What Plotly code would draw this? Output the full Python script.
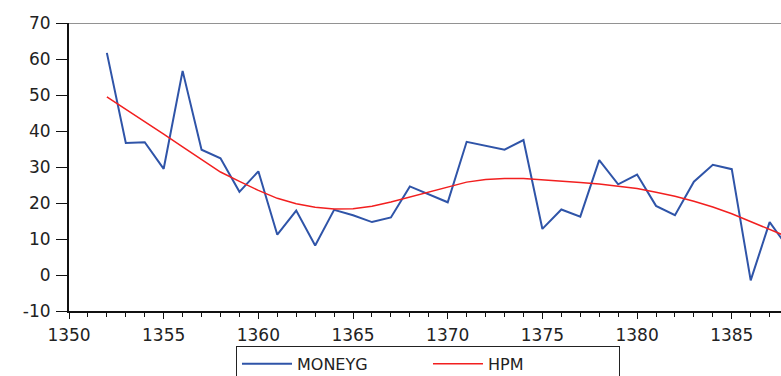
import plotly.graph_objects as go

years = list(range(1352, 1389))
moneyg = [61.7, 36.7, 36.9, 29.5, 56.7, 34.8, 32.4, 23.1, 28.8, 11.2,
          17.9, 8.2, 18.1, 16.6, 14.7, 16.0, 24.6, 22.3, 20.2, 37.0,
          35.8, 34.8, 37.5, 12.8, 18.2, 16.2, 31.9, 25.2, 27.9, 19.2,
          16.6, 25.9, 30.6, 29.4, -1.5, 14.7, 7.4]
hpm = [49.5, 46.1, 42.6, 39.1, 35.6, 32.0, 28.6, 26.0, 23.5, 21.3,
       19.8, 18.8, 18.3, 18.4, 19.1, 20.3, 21.7, 23.2, 24.6, 25.8,
       26.5, 26.8, 26.8, 26.5, 26.1, 25.7, 25.3, 24.7, 24.0, 23.0,
       21.9, 20.5, 18.9, 17.0, 14.9, 12.7, 10.5]

y_ticks = [70, 60, 50, 40, 30, 20, 10, 0, -10]
y_labels = ["70", "60", "50", "40", "30", "20", "10", "0", "-10"]
x_ticks = [1350, 1355, 1360, 1365, 1370, 1375, 1380, 1385]
x_labels = ["1350", "1355", "1360", "1365", "1370", "1375", "1380", "1385"]

FONT = "DejaVu Sans, Liberation Sans, Arial"

fig = go.Figure()
fig.add_trace(go.Scatter(x=years, y=moneyg, mode="lines", name="MONEYG",
                         line=dict(color="#2F54A8", width=2)))
fig.add_trace(go.Scatter(x=years, y=hpm, mode="lines", name="HPM",
                         line=dict(color="#F21F1F", width=1.5)))

fig.add_shape(type="line", xref="paper", yref="y", x0=0, x1=1, y0=70, y1=70,
              line=dict(color="#6E6E6E", width=1.5))

fig.update_layout(
    width=781, height=376,
    margin=dict(l=69, r=0, t=23, b=65, pad=0, autoexpand=False),
    plot_bgcolor="white", paper_bgcolor="white",
    font=dict(family=FONT, size=17, color="#222222"),
    showlegend=True,
    legend=dict(orientation="h", xref="container", yref="container",
                x=0.548, xanchor="center", y=0.08, yanchor="top",
                bordercolor="#222222", borderwidth=1, bgcolor="white",
                font=dict(family=FONT, size=16, color="#222222"),
                entrywidth=126, itemwidth=50, tracegroupgap=0),
    xaxis=dict(range=[1350, 1387.6], tickmode="array", tickvals=x_ticks, ticktext=x_labels,
               automargin=False,
               showgrid=False, zeroline=False, showline=True, linecolor="#111111", linewidth=1.5,
               ticks="outside", ticklen=6, tickwidth=1.2, tickcolor="#111111",
               ticklabelstandoff=2,
               minor=dict(dtick=1, tick0=1350, ticks="outside", ticklen=4, tickwidth=1,
                          tickcolor="#111111", showgrid=False)),
    yaxis=dict(range=[-10, 70], tickmode="array", tickvals=y_ticks, ticktext=y_labels,
               automargin=False,
               showgrid=False, zeroline=False, showline=True, linecolor="#111111", linewidth=2,
               ticks="outside", ticklen=11, tickwidth=1.2, tickcolor="#111111",
               ticklabelstandoff=2),
)

fig.write_html("out.html", config={"displayModeBar": False},
               post_script="document.body.style.margin='0';document.body.style.overflow='hidden';")
